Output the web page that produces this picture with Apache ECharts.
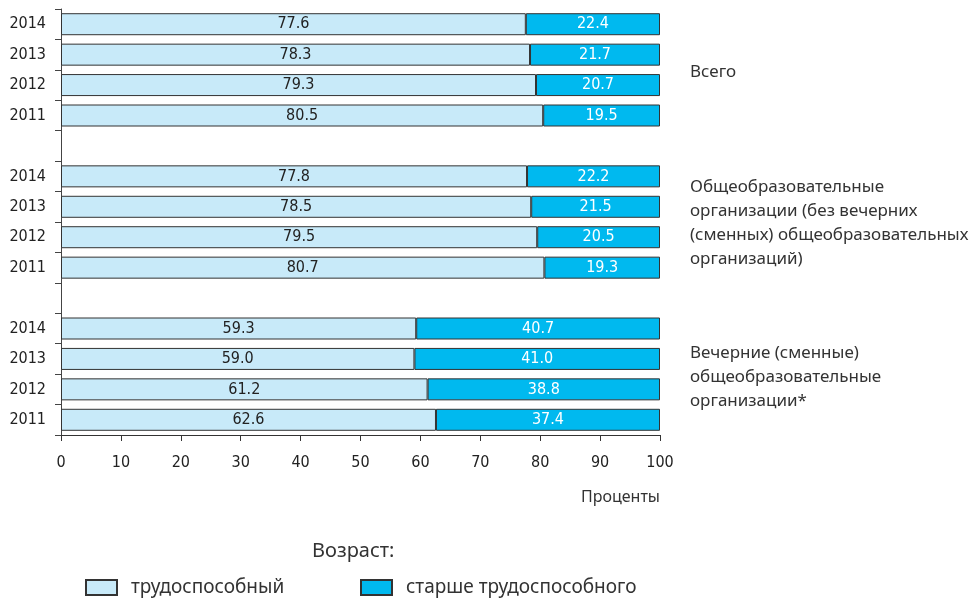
<!DOCTYPE html>
<html><head><meta charset="utf-8">
<script src="https://cdn.jsdelivr.net/npm/echarts@6/dist/echarts.min.js"></script>
<style>html,body{margin:0;padding:0;background:#fff}#c{width:970px;height:601px}</style>
</head><body><div id="c"></div>
<script>
const categories = ['2014','2013','2012','2011','','2014','2013','2012','2011','','2014','2013','2012','2011'];
const working = [77.6,78.3,79.3,80.5,null,77.8,78.5,79.5,80.7,null,59.3,59.0,61.2,62.6];
const older = [22.4,21.7,20.7,19.5,null,22.2,21.5,20.5,19.3,null,40.7,41.0,38.8,37.4];
const seriesNames = ['трудоспособный','старше трудоспособного'];
const groupLabels = ['Всего','Общеобразовательные\nорганизации (без вечерних\n(сменных) общеобразовательных\nорганизаций)','Вечерние (сменные)\nобщеобразовательные\nорганизации*'];

const narrow = '"DejaVu Sans Condensed","Liberation Sans Narrow",sans-serif';
const human = '"Noto Sans","Open Sans",sans-serif';
const chart = echarts.init(document.getElementById('c'));
const legendText = {fontFamily:human,fontSize:19,color:'#333',padding:[0,0,0,9]};
chart.setOption({
  animation:false,
  grid:{left:61,right:310,top:9,bottom:166,containLabel:false},
  xAxis:{type:'value',min:0,max:100,interval:10,
    axisLine:{show:true,lineStyle:{color:'#333',width:1}},
    axisTick:{show:true,length:6,lineStyle:{color:'#333'}},
    splitLine:{show:false},
    axisLabel:{color:'#222',fontFamily:narrow,fontSize:16,margin:20}},
  yAxis:{type:'category',inverse:true,data:categories,
    axisLine:{show:true,lineStyle:{color:'#444',width:1}},
    axisTick:{show:true,length:6,lineStyle:{color:'#444'}},
    axisLabel:{color:'#222',fontFamily:narrow,fontSize:16,margin:15}},
  legend:[
    {left:80,top:573,itemWidth:31,itemHeight:15,data:[seriesNames[0]],textStyle:legendText,icon:'rect'},
    {left:355,top:573,itemWidth:31,itemHeight:15,data:[seriesNames[1]],textStyle:legendText,icon:'rect'}
  ],
  graphic:[
    {type:'text',left:312,top:541,style:{text:'Возраст:',font:'20px '+human,fill:'#333'}},
    {type:'text',right:310,top:489,style:{text:'Проценты',font:'16px '+human,fill:'#333',textAlign:'right'}},
    {type:'text',left:690,top:60,style:{text:groupLabels[0],font:'17px '+human,fill:'#333',lineHeight:24}},
    {type:'text',left:690,top:175,style:{text:groupLabels[1],font:'17px '+human,fill:'#333',lineHeight:24}},
    {type:'text',left:690,top:341,style:{text:groupLabels[2],font:'17px '+human,fill:'#333',lineHeight:24}}
  ],
  series:[
    {name:seriesNames[0],type:'bar',stack:'a',data:working,barWidth:22,
      itemStyle:{color:'#c8eaf9',borderColor:'#333',borderWidth:1},
      label:{show:true,position:'inside',color:'#222',fontFamily:narrow,fontSize:16,formatter:p=>p.value.toFixed(1)}},
    {name:seriesNames[1],type:'bar',stack:'a',data:older,barWidth:22,
      itemStyle:{color:'#00b9ef',borderColor:'#333',borderWidth:1},
      label:{show:true,position:'inside',color:'#fff',fontFamily:narrow,fontSize:16,formatter:p=>p.value.toFixed(1)}}
  ]
});
</script></body></html>
